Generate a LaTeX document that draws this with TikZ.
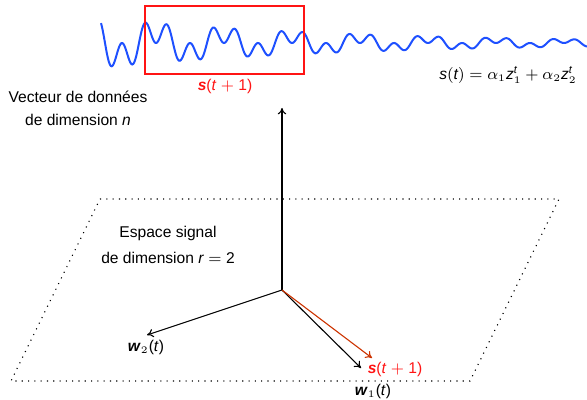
\documentclass[tikz,border=0pt]{standalone}
\usepackage{amsmath}
\usepackage{fontspec}
\setmainfont{Liberation Sans}
\usetikzlibrary{arrows.meta}
\definecolor{signalred}{RGB}{255,20,20}
\definecolor{projred}{RGB}{204,51,0}
\definecolor{waveblue}{RGB}{30,80,255}
\newcommand{\vb}[1]{\textbf{\textit{#1}}}
\newcommand{\vi}[1]{\textit{#1}}

\begin{document}
\begin{tikzpicture}[x=0.5pt, y=-0.5pt,
  >={To[length=3.2pt,width=4.2pt]},
  every node/.style={font=\fontsize{7.8}{11.5}\selectfont},
  vec/.style={->, line width=0.55pt},
  plane/.style={dash pattern=on 0.55pt off 2.6pt, line width=0.55pt}]
  \useasboundingbox (0,0) rectangle (587,400);

  \draw[plane] (100,199) -- (559,199) -- (470,381) -- (11,381) -- cycle;

  \draw[waveblue, line width=1pt] plot[domain=101:587, samples=500, smooth]
    (\x, {43 - 52*exp(-0.004*(\x-150))*cos(5.2941*(\x-156))*(sin(5.2941*(\x-156)))^2});
  \draw[signalred, line width=0.7pt] (145,6) rectangle (304,74);

  \coordinate (O) at (282,290);
  \coordinate (top) at (282,108);
  \coordinate (w2) at (147,335);
  \coordinate (w1) at (361,368);
  \coordinate (s) at (372,358);

  \draw[vec] (O) -- (top);
  \draw[vec] (O) -- (w2);
  \draw[vec] (O) -- (w1);
  \draw[vec, projred] (O) -- (s);

  \node[signalred] (slab) at (225,86) {\vb{s}(\vi{t} $+$ 1)};
  \node (st) at (508,75) {$\vi{s}(\vi{t}) = \alpha_1 \vi{z}_1^{\vi{t}} + \alpha_2 \vi{z}_2^{\vi{t}}$};
  \node[align=center] (data) at (78,108) {Vecteur de données\\de dimension \vi{n}};
  \node[align=center, font=\fontsize{7.8}{13}\selectfont] (space) at (168,245) {Espace signal\\de dimension \vi{r} $=$ 2};
  \node (w2lab) at (146,347) {\vb{w}$_2$(\vi{t})};
  \node (w1lab) at (373,391) {\vb{w}$_1$(\vi{t})};
  \node[signalred] (slab2) at (395,369) {\vb{s}(\vi{t} $+$ 1)};
\end{tikzpicture}
\end{document}
